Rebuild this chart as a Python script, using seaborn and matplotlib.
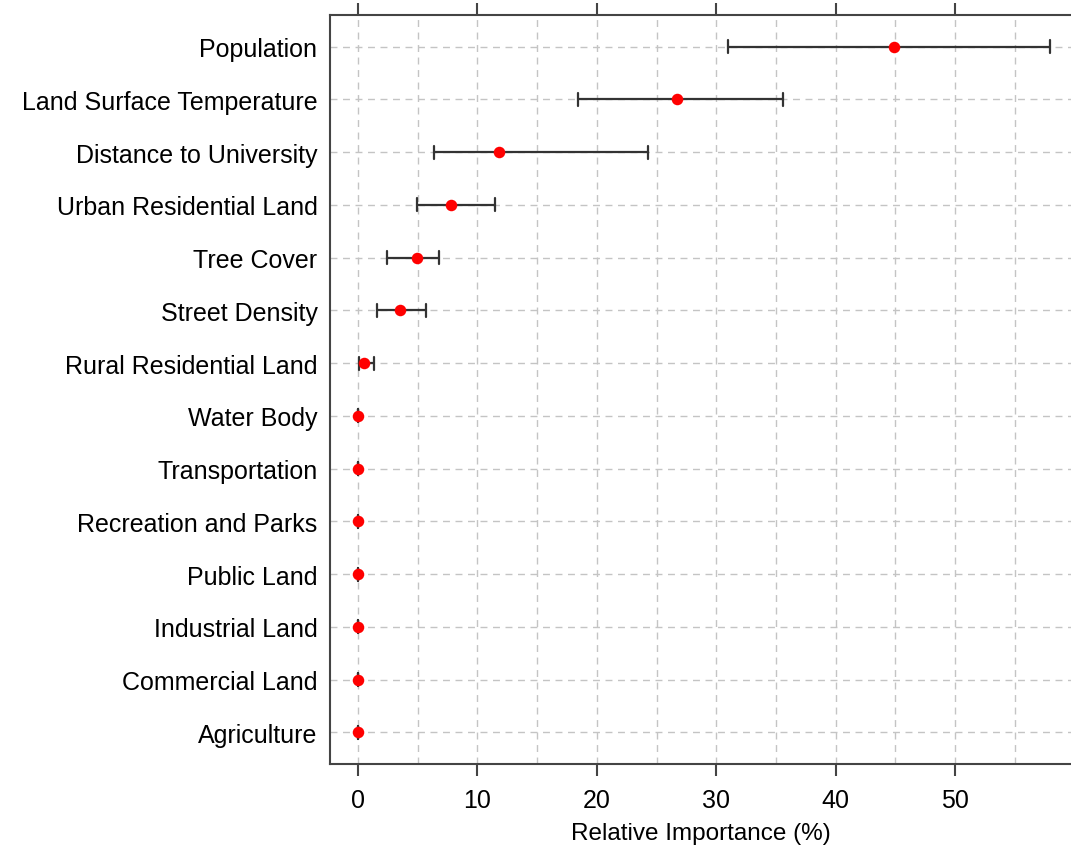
import numpy as np
import pandas as pd
import matplotlib
matplotlib.use("Agg")
import matplotlib.pyplot as plt
from matplotlib.ticker import MultipleLocator
import seaborn as sns

# variables, top to bottom
variables = [
    "Population", "Land Surface Temperature", "Distance to University",
    "Urban Residential Land", "Tree Cover", "Street Density",
    "Rural Residential Land", "Water Body", "Transportation",
    "Recreation and Parks", "Public Land", "Industrial Land",
    "Commercial Land", "Agriculture",
]
# relative importance (%) and its interval
importance = [44.9, 26.7, 11.8, 7.8, 4.9, 3.5, 0.5, 0, 0, 0, 0, 0, 0, 0]
lower = [31.0, 18.4, 6.4, 4.9, 2.45, 1.6, 0.05, 0, 0, 0, 0, 0, 0, 0]
upper = [57.9, 35.6, 24.3, 11.5, 6.75, 5.65, 1.3, 0, 0, 0, 0, 0, 0, 0]

# three rows per variable: lower, estimate, upper -> median / min-max
df = pd.DataFrame({
    "variable": np.repeat(variables, 3),
    "value": np.ravel(np.column_stack([lower, importance, upper])),
})

sns.set_theme(style="white")
plt.rcParams["font.family"] = ["Liberation Sans", "DejaVu Sans"]

fig = plt.figure(figsize=(10.71, 8.54), dpi=100)
ax = fig.add_axes([0.3081, 0.1042, 0.6919, 0.8771])

sns.pointplot(
    data=df, x="value", y="variable", order=variables,
    estimator="median", errorbar=lambda v: (v.min(), v.max()),
    linestyle="none", color="#ff0000", marker="o", markersize=8.3,
    markeredgewidth=0, capsize=0.25,
    err_kws={"color": "#333333", "linewidth": 1.6},
    ax=ax,
)
for ln in ax.lines:
    if ln.get_marker() == "o":
        ln.set_zorder(5)
    else:
        ln.set_zorder(3)

ax.set_xlim(-2.35, 59.7)
ax.set_ylim(13.6, -0.6)
ax.xaxis.set_major_locator(MultipleLocator(10))
ax.xaxis.set_minor_locator(MultipleLocator(5))

ax.xaxis.grid(True, which="both", linestyle=(0, (5, 4)), color="#c4c4c4", linewidth=1.0)
ax.yaxis.grid(True, which="major", linestyle=(0, (5, 4)), color="#c4c4c4", linewidth=1.0)
ax.set_axisbelow(True)

for side in ["left", "top", "bottom"]:
    ax.spines[side].set_color("#444444")
    ax.spines[side].set_linewidth(1.5)
ax.spines["right"].set_visible(False)

ax.tick_params(axis="x", which="major", top=True, bottom=True, labeltop=False,
               direction="out", length=8.5, width=1.5, color="#444444",
               labelsize=18, pad=9, labelcolor="black")
ax.tick_params(axis="x", which="minor", length=0)
ax.tick_params(axis="y", left=False, labelsize=18, pad=3, labelcolor="black")

ax.set_ylabel("")
ax.set_xlabel("Relative Importance (%)", fontsize=17.5, labelpad=7, color="black")

fig.savefig("out.png", dpi=100, facecolor="white")
